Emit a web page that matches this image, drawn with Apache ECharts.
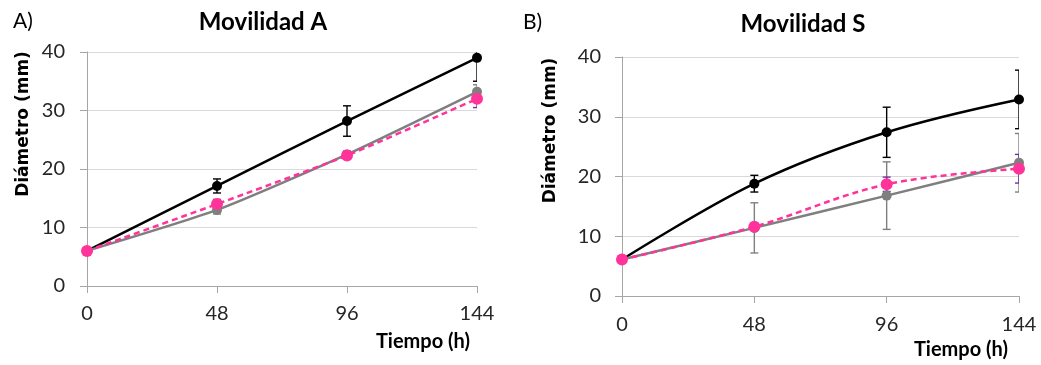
<!DOCTYPE html>
<html>
<head>
<meta charset="utf-8">
<script src="https://cdn.jsdelivr.net/npm/echarts@6/dist/echarts.min.js"></script>
<style>
  html, body { margin: 0; padding: 0; background: #fff; }
  #chart { width: 1041px; height: 365px; }
</style>
</head>
<body>
<div id="chart"></div>
<script>
// tiempo (h)
const times = [0, 48, 96, 144];
const yTicks = [0, 10, 20, 30, 40];

// Movilidad A
const aBlack = [6.0, 17.1, 28.2, 39.0];
const aBlackErr = [0, 1.2, 2.6, 4.0];
const aGray = [6.0, 13.0, 22.5, 33.2];
const aGrayErr = [0, 0.7, 0.6, 1.2];
const aPink = [6.0, 14.0, 22.3, 32.0];
const aPinkErr = [0, 0.8, 0.6, 1.5];

// Movilidad S
const sBlack = [6.1, 18.8, 27.4, 32.9];
const sBlackErr = [0, 1.4, 4.2, 4.9];
const sGray = [6.1, 11.4, 16.8, 22.3];
const sGrayErr = [0, 4.2, 5.65, 4.9];
const sPink = [6.1, 11.6, 18.7, 21.3];
const sPinkErr = [0, 0.6, 1.2, 2.4];

const FONT = 'Lato';
const BLACK = '#000000';
const GRAY = '#7f7f7f';
const PINK = '#ff3399';
const PURPLE = '#7030a0';

function pts(vals) {
  return times.map((t, i) => [t, vals[i]]);
}

// barras de error (se recortan al área del gráfico como en Excel)
function errSeries(idx, vals, errs, color) {
  return {
    type: 'custom',
    xAxisIndex: idx, yAxisIndex: idx,
    clip: true,
    z: 3,
    silent: true,
    data: times.map((t, i) => [t, vals[i] - errs[i], vals[i] + errs[i]]),
    renderItem: function (params, api) {
      const lo = api.coord([api.value(0), api.value(1)]);
      const hi = api.coord([api.value(0), api.value(2)]);
      const w = 4;
      const st = { stroke: color, lineWidth: 1.4 };
      return {
        type: 'group',
        children: [
          { type: 'line', shape: { x1: lo[0], y1: lo[1], x2: hi[0], y2: hi[1] }, style: st },
          { type: 'line', shape: { x1: lo[0] - w, y1: lo[1], x2: lo[0] + w, y2: lo[1] }, style: st },
          { type: 'line', shape: { x1: hi[0] - w, y1: hi[1], x2: hi[0] + w, y2: hi[1] }, style: st }
        ]
      };
    }
  };
}

function lineSeries(idx, vals, color, dashed, size, smooth) {
  return {
    type: 'line',
    xAxisIndex: idx, yAxisIndex: idx,
    data: pts(vals),
    smooth: smooth,
    symbol: 'circle',
    symbolSize: size,
    z: 4,
    lineStyle: { color: color, width: 2.5, type: dashed ? [6, 4] : 'solid' },
    itemStyle: { color: color },
    emphasis: { disabled: true }
  };
}

function xAx(idx, gap, pad, margin) {
  return {
    type: 'value', gridIndex: idx,
    min: 0, max: 144, interval: 48,
    name: 'Tiempo (h)',
    nameLocation: 'end',
    nameGap: gap,
    nameTextStyle: {
      fontFamily: FONT, fontWeight: 'bold', fontSize: 20, color: '#000',
      align: 'right', verticalAlign: 'top', padding: [pad, 0, 0, 0]
    },
    axisLine: { show: true, onZero: false, lineStyle: { color: '#a6a6a6', width: 1 } },
    axisTick: { show: true, length: 7, lineStyle: { color: '#a6a6a6' } },
    axisLabel: { fontFamily: FONT, fontSize: 20, color: '#262626', margin: margin },
    splitLine: { show: false }
  };
}

function yAx(idx, gap, margin, shift) {
  return {
    type: 'value', gridIndex: idx,
    min: yTicks[0], max: yTicks[yTicks.length - 1], interval: 10,
    name: 'Diámetro (mm)',
    nameLocation: 'middle',
    nameGap: gap,
    nameTextStyle: {
      fontFamily: 'DejaVu Sans', fontWeight: 'bold', fontSize: 17, color: '#000',
      padding: [0, 0, 0, shift]
    },
    axisLine: { show: true, lineStyle: { color: '#a6a6a6', width: 1 } },
    axisTick: { show: true, length: 7, lineStyle: { color: '#a6a6a6' } },
    axisLabel: { fontFamily: FONT, fontSize: 20, color: '#262626', margin: margin },
    splitLine: { show: true, lineStyle: { color: '#d9d9d9', width: 1 } }
  };
}

const chart = echarts.init(document.getElementById('chart'), null, { renderer: 'canvas' });

chart.setOption({
  animation: false,
  backgroundColor: '#fff',
  title: [
    { text: 'Movilidad A', left: 258, top: 5, textAlign: 'center',
      textStyle: { fontFamily: FONT, fontWeight: 'bold', fontSize: 24, color: '#000' } },
    { text: 'Movilidad S', left: 798, top: 7, textAlign: 'center',
      textStyle: { fontFamily: FONT, fontWeight: 'bold', fontSize: 24, color: '#000' } },
    { text: 'A)', left: 8, top: 6,
      textStyle: { fontFamily: FONT, fontWeight: 'normal', fontSize: 21, color: '#000' } },
    { text: 'B)', left: 518, top: 7,
      textStyle: { fontFamily: FONT, fontWeight: 'normal', fontSize: 21, color: '#000' } }
  ],
  grid: [
    { left: 87, top: 52, width: 390, height: 234 },
    { left: 622, top: 57, width: 397, height: 239 }
  ],
  xAxis: [xAx(0, -7, 46, 18), xAx(1, -11, 44, 19)],
  yAxis: [yAx(0, 55, 22, 90), yAx(1, 63, 21, 92)],
  series: [
    errSeries(0, aBlack, aBlackErr, BLACK),
    errSeries(0, aGray, aGrayErr, GRAY),
    errSeries(0, aPink, aPinkErr, PURPLE),
    lineSeries(0, aBlack, BLACK, false, 10, 0.2),
    lineSeries(0, aGray, GRAY, false, 10, 0.2),
    lineSeries(0, aPink, PINK, true, 12, 0.2),

    errSeries(1, sBlack, sBlackErr, BLACK),
    errSeries(1, sGray, sGrayErr, GRAY),
    errSeries(1, sPink, sPinkErr, PURPLE),
    lineSeries(1, sBlack, BLACK, false, 10, 0.35),
    lineSeries(1, sGray, GRAY, false, 10, 0.2),
    lineSeries(1, sPink, PINK, true, 12, 0.35)
  ]
});
</script>
</body>
</html>
